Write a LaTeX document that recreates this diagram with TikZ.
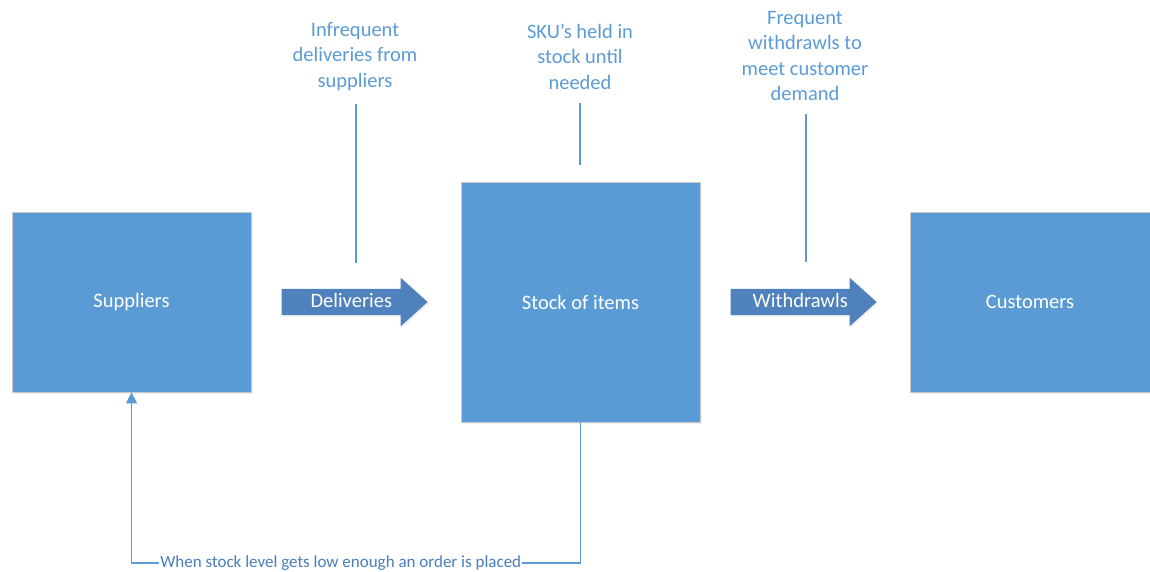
\documentclass[tikz,border=0pt]{standalone}
\usepackage{fontspec}
\setmainfont{Carlito}
\usepackage{xcolor}
\usepackage{tikz}
\usetikzlibrary{arrows.meta,positioning,shapes.arrows,shadows,calc}
\definecolor{azul}{HTML}{5B9BD5}
\definecolor{azulEscuro}{HTML}{4F81BD}
\definecolor{azulTexto}{HTML}{4A7EBB}
\definecolor{bordaCinza}{HTML}{C8C8C8}
\tikzset{
    bloco/.style={
        rectangle,
        draw=bordaCinza,
        line width=0.8pt,
        fill=azul,
        text=white,
        align=center,
        drop shadow={opacity=0.12, shadow xshift=2pt, shadow yshift=-2pt}
    },
    seta/.style={
        single arrow,
        fill=azulEscuro,
        text=white,
        minimum height=146pt,
        single arrow head extend=11pt,
        single arrow tip angle=84,
        single arrow head indent=0pt,
        inner xsep=4pt,
        inner ysep=4pt,
        text height=14pt,
        text depth=4pt,
        execute at begin node={\hspace*{8pt}},
        drop shadow={opacity=0.12, shadow xshift=1.5pt, shadow yshift=-1.5pt}
    },
    rotulo/.style={
        align=center,
        text=azul,
        inner sep=0pt
    },
    guia/.style={draw=azul, line width=1.3pt},
    retorno/.style={draw=azul, line width=1.6pt, -{Triangle[length=11pt,width=11pt]}}
}

\begin{document}
\begin{tikzpicture}[
        x=1pt, y=-1pt,
        every node/.style={font=\fontsize{20.5}{25.5}\selectfont}
    ]
        \useasboundingbox (0,0) rectangle (1150,572);

        % caixas principais
        \node[bloco, minimum width=239pt, minimum height=180pt] (fornecedores) at (131.5,302) {Suppliers};
        \node[bloco, minimum width=239pt, minimum height=240pt] (estoque) at (580.5,302) {Stock of items};
        \node[bloco, minimum width=240pt, minimum height=180pt] (clientes) at (1030,302) {Customers};

        % setas de fluxo
        \node[seta, right=30pt of fornecedores] (entregas) {Deliveries};
        \node[seta, right=30pt of estoque] (retiradas) {Withdrawls};

        % rotulos de cima
        \node[rotulo] (rotEntregas) at (355,56.5) {Infrequent\\deliveries from\\suppliers};
        \node[rotulo] (rotEstoque) at (580,56.5) {SKU’s held in\\stock until\\needed};
        \node[rotulo] (rotRetiradas) at (805,56) {Frequent\\withdrawls to\\meet customer\\demand};

        \coordinate (fimEntregas) at (356,263);
        \coordinate (fimEstoque) at (580,165);
        \coordinate (fimRetiradas) at (806,262);
        \coordinate (base) at (355,563);

        \draw[guia] (rotEntregas.south -| fimEntregas) ++(0,13) -- (fimEntregas);
        \draw[guia] (rotEstoque.south -| fimEstoque) ++(0,14) -- (fimEstoque);
        \draw[guia] (rotRetiradas.south -| fimRetiradas) ++(0,13) -- (fimRetiradas);

        % pedido de reposicao
        \draw[retorno] (estoque.south) |- (fornecedores.south |- base)
            node[pos=0.767, fill=white, inner xsep=1pt, inner ysep=0pt, text=azulTexto, font=\fontsize{17}{20}\selectfont] (rotPedido) {When stock level gets low enough an order is placed}
            -- (fornecedores.south);
    \end{tikzpicture}
\end{document}
